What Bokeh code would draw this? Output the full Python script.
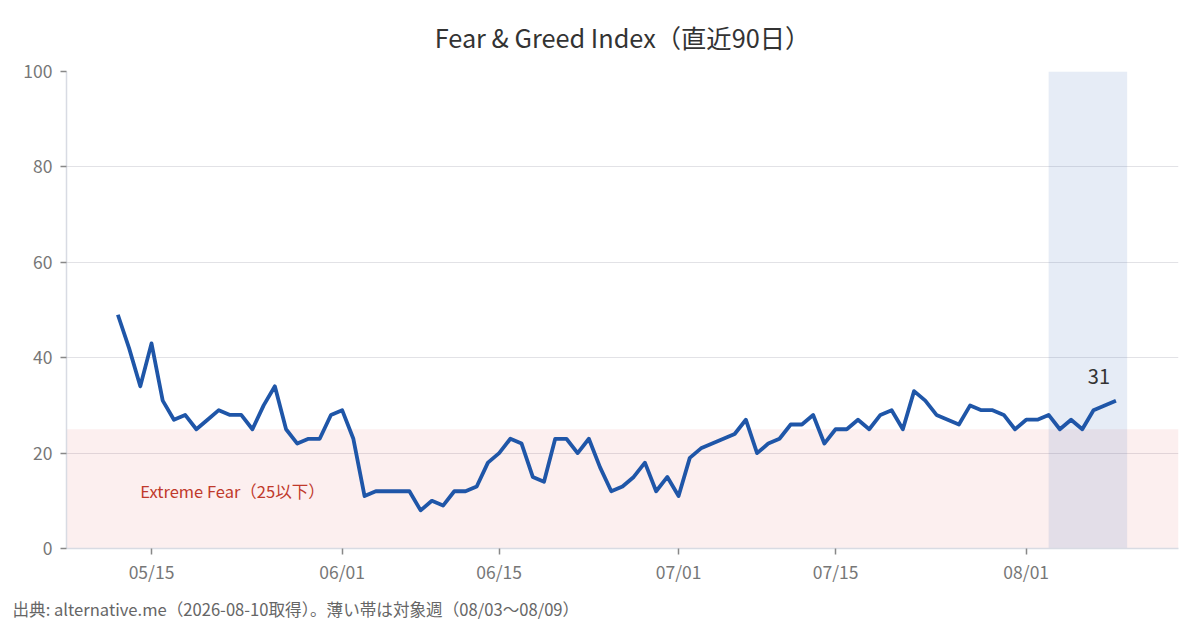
import pandas as pd
from bokeh.plotting import figure
from bokeh.models import (ColumnDataSource, Range1d, FixedTicker, DatetimeTickFormatter,
                          BoxAnnotation, Label, Title)
from bokeh.embed import file_html
from bokeh.resources import INLINE

# ---- data ----
start_date = "2026-05-12"
fg_values = [49, 42, 34, 43, 31, 27, 28, 25, 27, 29, 28, 28, 25, 30, 34, 25, 22, 23, 23, 28, 29, 23,
             11, 12, 12, 12, 12, 8, 10, 9, 12, 12, 13, 18, 20, 23, 22, 15, 14, 23, 23, 20, 23, 17,
             12, 13, 15, 18, 12, 15, 11, 19, 21, 22, 23, 24, 27, 20, 22, 23, 26, 26, 28, 22, 25, 25,
             27, 25, 28, 29, 25, 33, 31, 28, 27, 26, 30, 29, 29, 28, 25, 27, 27, 28, 25, 27, 25, 29, 30, 31]
week_start = "2026-08-03"
week_end = "2026-08-10"
fear_threshold = 25
x_tick_dates = ["2026-05-15", "2026-06-01", "2026-06-15", "2026-07-01", "2026-07-15", "2026-08-01"]
y_ticks = [0, 20, 40, 60, 80, 100]

title_text = "Fear & Greed Index（直近90日）"
footer_text = "出典: alternative.me（2026-08-10取得）。薄い帯は対象週（08/03〜08/09）"
fear_label = "Extreme Fear（25以下）"

FONT = "Noto Sans CJK JP"

dates = pd.date_range(start_date, periods=len(fg_values), freq="D")
src = ColumnDataSource(dict(x=dates, y=fg_values))

pad = pd.Timedelta(days=4.58)
x0 = dates[0] - pad
x1 = pd.Timestamp(week_end) + pad

p = figure(width=1200, height=630, x_axis_type="datetime",
           x_range=Range1d(x0, x1), y_range=Range1d(0, 100),
           output_backend="svg", toolbar_location=None,
           min_border_left=66, min_border_right=22, min_border_top=70, min_border_bottom=82)
p.outline_line_color = None
p.background_fill_color = "white"
p.border_fill_color = "white"

# title and footer
p.add_layout(Title(text=title_text, align="center", text_font=FONT, text_font_size="25.3px",
                   text_color="#333333", text_font_style="normal", offset=-7, standoff=33), "above")
p.add_layout(Title(text=footer_text, align="left", vertical_align="bottom", text_font=FONT,
                   text_font_size="16.6px", text_color="#666666", text_font_style="normal",
                   offset=-54, standoff=16), "below")

# bands
p.add_layout(BoxAnnotation(bottom=0, top=fear_threshold, fill_color="#d9534f", fill_alpha=0.09,
                           line_color=None, level="underlay"))
p.add_layout(BoxAnnotation(left=pd.Timestamp(week_start), right=pd.Timestamp(week_end),
                           fill_color="#4f78c0", fill_alpha=0.14, line_color=None, level="underlay"))

p.line("x", "y", source=src, line_color="#1f56a8", line_width=3.8, line_join="round")

# axes
tick_ms = [pd.Timestamp(d).value // 10**6 for d in x_tick_dates]
p.xaxis.ticker = FixedTicker(ticks=tick_ms)
p.xaxis.formatter = DatetimeTickFormatter(days="%m/%d", months="%m/%d", years="%m/%d")
p.yaxis.ticker = FixedTicker(ticks=y_ticks)
for ax in (p.xaxis, p.yaxis):
    ax.axis_line_color = "#d8dbe3"
    ax.axis_line_width = 1.5
    ax.major_tick_line_color = "#888888"
    ax.major_tick_line_width = 1.5
    ax.major_tick_out = 6
    ax.major_tick_in = 0
    ax.minor_tick_line_color = None
    ax.major_label_text_font = FONT
    ax.major_label_text_font_size = "17.5px"
    ax.major_label_text_color = "#777777"
p.yaxis.major_label_standoff = 8
p.xaxis.major_label_standoff = 4

p.xgrid.grid_line_color = None
p.ygrid.grid_line_color = "#e2e2e6"
p.ygrid.grid_line_width = 1

# in-plot labels
p.add_layout(Label(x=dates[0] + pd.Timedelta(days=2), y=12, text=fear_label,
                   text_font=FONT, text_font_size="16.5px", text_color="#c0392b",
                   text_baseline="middle", text_align="left"))
p.add_layout(Label(x=dates[-1], y=fg_values[-1] + 5, text=str(fg_values[-1]),
                   text_font=FONT, text_font_size="20px", text_color="#333333",
                   text_baseline="middle", text_align="center", x_offset=-17))

open("out.html", "w").write(file_html(p, INLINE))
